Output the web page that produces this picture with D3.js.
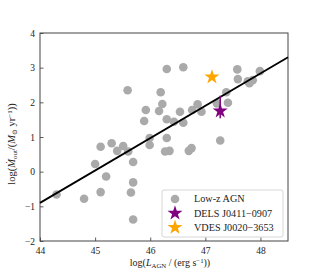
<!DOCTYPE html>
<html>
<head>
<meta charset="utf-8">
<script src="https://cdn.jsdelivr.net/npm/d3@7"></script>
<style>
  body { margin: 0; background: #fff; }
  svg text { font-family: "Liberation Serif", "DejaVu Serif", serif; fill: #222; }
</style>
</head>
<body>
<div id="chart"></div>
<script>
// Low-z AGN sample: log L_AGN and log Mdot_out
const agnLogL = [44.30, 44.80, 45.00, 45.10, 45.30, 45.40, 45.51, 45.60, 45.69, 45.20,
  45.69, 45.10, 45.65, 45.69, 45.99, 45.99, 45.59, 45.89, 45.92, 46.16,
  46.19, 46.22, 46.30, 46.60, 46.30, 46.43, 46.54, 46.60, 46.76, 46.86,
  46.93, 46.30, 46.27, 46.35, 46.70, 46.75, 47.27, 47.21, 47.38, 47.41,
  47.58, 47.59, 47.77, 47.86, 47.80, 47.99];
const agnLogMdot = [-0.66, -0.78, 0.22, 0.72, 0.82, 0.60, 0.74, 0.58, 0.28, -0.14,
  -0.31, -0.59, -0.60, -1.38, 0.97, 0.77, 2.35, 1.46, 1.78, 1.75,
  2.29, 1.95, 2.96, 3.01, 1.51, 1.44, 1.73, 1.41, 1.78, 1.94,
  1.73, 0.97, 0.58, 0.60, 0.60, 0.68, 0.90, 1.97, 2.29, 1.99,
  2.95, 2.67, 2.61, 2.64, 2.55, 2.90];

// quasars
const dels = { logL: 47.27, logMdot: 1.75, lo: 1.54, hi: 2.19 };
const vdes = { logL: 47.12, logMdot: 2.73 };

// best-fit line end points
const fitX = [44, 48.5];
const fitY = [-0.9, 3.3];

const xTicks = [44, 45, 46, 47, 48];
const yTicks = [-2, -1, 0, 1, 2, 3, 4];

const width = 320, height = 272;
const margin = { top: 33, right: 32, bottom: 31, left: 40 };

const svg = d3.select("#chart").append("svg")
  .attr("width", width)
  .attr("height", height);

const x = d3.scaleLinear().domain([44, 48.5]).range([margin.left, width - margin.right]);
const y = d3.scaleLinear().domain([-2, 4]).range([height - margin.bottom, margin.top]);

// Axes (ticks pointing inward)
const fmt = d => d < 0 ? "\u2212" + Math.abs(d) : String(d);

const xAxis = svg.append("g")
  .attr("transform", `translate(0,${height - margin.bottom})`)
  .call(d3.axisBottom(x).tickValues(xTicks).tickFormat(fmt).tickSizeInner(-3.5).tickSizeOuter(0).tickPadding(6));

const yAxis = svg.append("g")
  .attr("transform", `translate(${margin.left},0)`)
  .call(d3.axisLeft(y).tickValues(yTicks).tickFormat(fmt).tickSizeInner(-3.5).tickSizeOuter(0).tickPadding(5));

[xAxis, yAxis].forEach(g => {
  g.select(".domain").remove();
  g.selectAll("line").attr("stroke", "#333").attr("stroke-width", 0.8);
  g.selectAll("text").attr("font-size", "9.5px").attr("fill", "#222")
    .style("font-family", "'Liberation Serif', serif");
});

// Frame
svg.append("rect")
  .attr("x", margin.left)
  .attr("y", margin.top)
  .attr("width", width - margin.left - margin.right)
  .attr("height", height - margin.top - margin.bottom)
  .attr("fill", "none")
  .attr("stroke", "#444")
  .attr("stroke-width", 1);

const plot = svg.append("g");

// Low-z AGN points
plot.selectAll(".dot")
  .data(agnLogL.map((d, i) => ({ l: d, m: agnLogMdot[i] })))
  .enter()
  .append("circle")
  .attr("class", "dot")
  .attr("cx", d => x(d.l))
  .attr("cy", d => y(d.m))
  .attr("r", 4.3)
  .attr("fill", "#aaaaaa");

// Fit line
plot.append("line")
  .attr("x1", x(fitX[0])).attr("y1", y(fitY[0]))
  .attr("x2", x(fitX[1])).attr("y2", y(fitY[1]))
  .attr("stroke", "#000")
  .attr("stroke-width", 1.8);

// DELS error bar and star
plot.append("line")
  .attr("x1", x(dels.logL)).attr("x2", x(dels.logL))
  .attr("y1", y(dels.hi)).attr("y2", y(dels.lo))
  .attr("stroke", "#800080")
  .attr("stroke-width", 1.5);

const star = d3.symbol().type(d3.symbolStar).size(70);

plot.append("path")
  .attr("d", star)
  .attr("transform", `translate(${x(dels.logL)},${y(dels.logMdot)})`)
  .attr("fill", "#800080");

plot.append("path")
  .attr("d", star)
  .attr("transform", `translate(${x(vdes.logL)},${y(vdes.logMdot)})`)
  .attr("fill", "#ffa500");

// Legend
const legend = svg.append("g").attr("transform", "translate(162,190)");
legend.append("rect")
  .attr("width", 121).attr("height", 47)
  .attr("rx", 2)
  .attr("fill", "#fff").attr("fill-opacity", 0.85)
  .attr("stroke", "#ccc").attr("stroke-width", 0.8);

const legItems = [
  { label: "Low-z AGN", kind: "dot", color: "#aaaaaa" },
  { label: "DELS J0411\u22120907", kind: "star", color: "#800080" },
  { label: "VDES J0020\u22123653", kind: "star", color: "#ffa500" }
];

legItems.forEach((it, i) => {
  const cy = 9 + i * 14.2;
  if (it.kind === "dot") {
    legend.append("circle").attr("cx", 13).attr("cy", cy).attr("r", 4.3).attr("fill", it.color);
  } else {
    legend.append("path").attr("d", star).attr("transform", `translate(13,${cy})`).attr("fill", it.color);
  }
  legend.append("text")
    .attr("x", 32).attr("y", cy + 3.4)
    .attr("font-size", "10.2px")
    .text(it.label);
});

// X label
const xl = svg.append("text")
  .attr("x", (margin.left + width - margin.right) / 2 + 6)
  .attr("y", 266)
  .attr("text-anchor", "middle")
  .attr("font-size", "10px");
xl.append("tspan").text("log(");
xl.append("tspan").attr("font-style", "italic").text("L");
xl.append("tspan").attr("font-size", "6.8px").attr("dy", 2).text("AGN");
xl.append("tspan").attr("dy", -2).text(" / (erg s");
xl.append("tspan").attr("font-size", "6.8px").attr("dy", -3.5).text("\u22121");
xl.append("tspan").attr("dy", 3.5).text("))");

// Y label
const yl = svg.append("text")
  .attr("transform", `translate(15,${(margin.top + height - margin.bottom) / 2 + 7}) rotate(-90)`)
  .attr("text-anchor", "middle")
  .attr("font-size", "10.5px");
yl.append("tspan").text("log(");
yl.append("tspan").attr("font-style", "italic").text("\u1E40");
yl.append("tspan").attr("font-size", "7px").attr("dy", 2).text("out");
yl.append("tspan").attr("dy", -2).text("/(");
yl.append("tspan").attr("font-style", "italic").text("M");
yl.append("tspan").attr("font-size", "7px").attr("dy", 2).text("\u2299");
yl.append("tspan").attr("dy", -2).text(" yr");
yl.append("tspan").attr("font-size", "7px").attr("dy", -3.5).text("\u22121");
yl.append("tspan").attr("dy", 3.5).text("))");
</script>
</body>
</html>
